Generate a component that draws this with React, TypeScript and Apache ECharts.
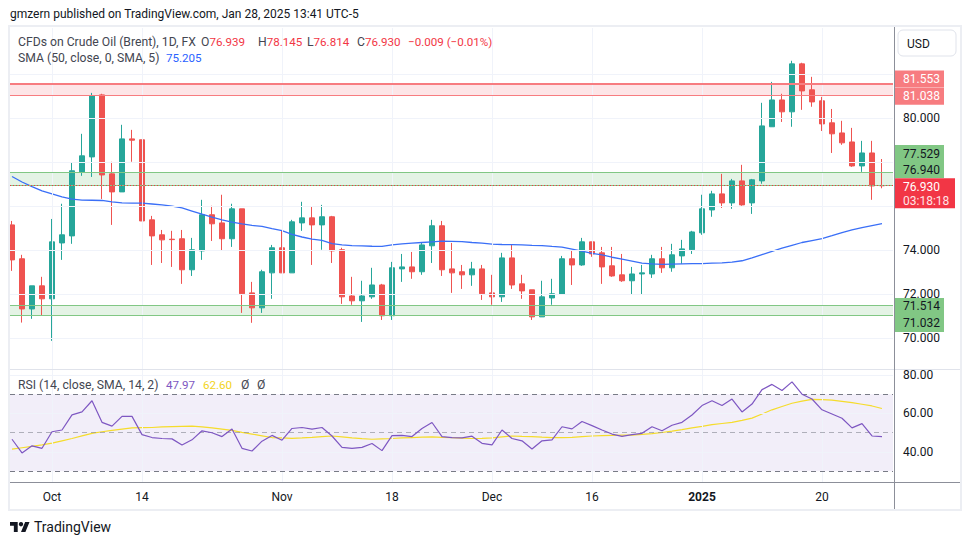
import { useEffect, useRef } from 'react';
import * as echarts from 'echarts';

const dates = [
  '2024-09-25','2024-09-26','2024-09-27','2024-09-30','2024-10-01','2024-10-02','2024-10-03','2024-10-04',
  '2024-10-07','2024-10-08','2024-10-09','2024-10-10','2024-10-11','2024-10-14','2024-10-15','2024-10-16',
  '2024-10-17','2024-10-18','2024-10-21','2024-10-22','2024-10-23','2024-10-24','2024-10-25','2024-10-28',
  '2024-10-29','2024-10-30','2024-10-31','2024-11-01','2024-11-04','2024-11-05','2024-11-06','2024-11-07',
  '2024-11-08','2024-11-11','2024-11-12','2024-11-13','2024-11-14','2024-11-15','2024-11-18','2024-11-19',
  '2024-11-20','2024-11-21','2024-11-22','2024-11-25','2024-11-26','2024-11-27','2024-11-28','2024-11-29',
  '2024-12-02','2024-12-03','2024-12-04','2024-12-05','2024-12-06','2024-12-09','2024-12-10','2024-12-11',
  '2024-12-12','2024-12-13','2024-12-16','2024-12-17','2024-12-18','2024-12-19','2024-12-20','2024-12-23',
  '2024-12-24','2024-12-26','2024-12-27','2024-12-30','2024-12-31','2025-01-02','2025-01-03','2025-01-06',
  '2025-01-07','2025-01-08','2025-01-09','2025-01-10','2025-01-13','2025-01-14','2025-01-15','2025-01-16',
  '2025-01-17','2025-01-20','2025-01-21','2025-01-22','2025-01-23','2025-01-24','2025-01-27','2025-01-28',
];

const opens = [
  75.15,73.61,71.33,72.38,71.79,74.33,74.65,77.56,78.24,81.06,77.47,76.65,79.06,79.02,75.38,74.70,
  74.50,74.52,73.11,73.97,75.61,75.24,74.52,75.88,72.06,71.38,72.97,74.11,72.97,75.24,75.47,75.15,
  75.52,74.02,71.92,71.70,71.88,72.42,71.02,73.15,73.24,73.02,74.20,75.11,73.15,73.02,72.88,73.15,
  72.06,71.88,73.65,72.47,72.20,70.97,71.83,72.00,73.61,73.33,74.38,73.88,73.29,72.88,72.61,72.92,
  72.92,73.61,73.20,73.74,74.02,74.79,75.83,76.56,76.15,77.15,76.15,77.15,79.61,80.83,80.29,82.47,
  81.29,80.79,79.79,79.33,78.92,77.83,78.42,76.939,
];
const highs = [
  75.33,73.79,72.38,72.79,75.42,76.11,77.97,79.29,81.15,81.11,78.02,79.70,79.47,79.02,75.56,74.92,
  74.88,74.92,74.56,76.29,76.02,76.52,76.11,75.88,72.56,73.11,74.24,74.92,75.38,76.20,75.97,76.06,
  75.56,74.11,72.79,72.61,73.20,72.47,73.47,73.83,73.92,74.33,75.38,75.33,74.33,73.33,73.47,73.33,
  72.88,73.88,74.24,72.88,72.20,72.61,72.70,73.74,73.97,74.56,74.38,74.15,74.15,73.83,73.24,73.33,
  73.79,74.15,74.29,74.47,74.88,76.52,76.70,77.47,77.24,77.88,77.24,80.70,81.65,81.11,82.61,82.52,
  81.88,80.97,80.42,79.88,79.56,78.97,78.97,78.145,
];
const lows = [
  73.06,70.71,70.88,71.02,69.88,73.56,74.29,77.38,77.33,76.33,75.15,76.65,78.02,75.33,73.33,73.42,
  73.24,72.47,72.83,73.56,74.42,73.97,74.15,71.15,70.70,71.15,71.79,72.97,72.97,74.88,73.33,74.02,
  73.42,71.56,71.52,70.74,71.79,70.83,70.83,72.56,72.70,72.88,73.42,72.83,72.06,72.24,72.38,71.74,
  71.52,71.65,72.24,71.79,70.83,70.97,71.52,71.97,72.42,73.29,73.70,72.47,72.79,72.56,71.97,71.97,
  72.74,72.97,73.02,73.38,73.83,74.70,75.52,75.92,75.88,76.02,75.65,77.02,79.61,79.83,79.61,80.38,
  80.52,79.42,78.42,78.79,77.79,77.56,76.29,76.814,
];
const closes = [
  73.56,71.33,72.38,71.79,74.38,74.70,77.61,78.29,81.02,77.42,76.65,79.06,79.00,75.33,74.65,74.47,
  74.48,73.11,74.02,75.61,75.20,74.52,75.88,72.02,71.38,73.02,74.11,72.97,75.29,75.47,75.15,75.52,
  73.97,71.88,71.70,71.92,72.42,71.02,73.20,73.24,73.02,74.24,75.11,73.11,72.97,72.88,73.15,72.02,
  71.88,73.65,72.42,72.15,70.97,71.88,72.02,73.61,73.33,74.38,73.83,73.24,72.83,72.61,72.92,72.97,
  73.61,73.20,73.79,74.06,74.83,75.88,76.56,76.15,77.15,76.06,77.20,79.65,80.83,80.29,82.47,81.24,
  80.74,79.74,79.29,78.88,77.83,78.42,76.92,76.930,
];
const sma50 = [
  77.35,77.10,76.89,76.70,76.56,76.42,76.32,76.28,76.27,76.26,76.20,76.15,76.14,76.14,76.10,76.06,
  76.00,75.92,75.78,75.64,75.50,75.38,75.28,75.20,75.13,75.08,74.98,74.89,74.72,74.60,74.50,74.45,
  74.30,74.24,74.21,74.20,74.18,74.17,74.24,74.29,74.32,74.35,74.38,74.41,74.40,74.39,74.35,74.32,
  74.28,74.26,74.25,74.24,74.22,74.21,74.17,74.14,74.05,73.96,73.86,73.79,73.68,73.59,73.50,73.41,
  73.38,73.36,73.37,73.38,73.39,73.39,73.41,73.42,73.46,73.52,73.65,73.80,73.95,74.09,74.22,74.35,
  74.44,74.53,74.66,74.80,74.92,75.03,75.12,75.205,
];
const rsi = [
  46.6,39.5,43.2,41.9,50.5,51.4,59.3,60.8,66.6,55.4,53.4,58.5,58.5,49.0,47.5,47.0,
  46.8,43.6,46.3,51.0,50.0,48.0,51.9,41.9,40.5,45.6,48.6,46.1,52.2,52.7,51.9,52.7,
  48.3,42.4,41.9,42.4,44.4,40.7,48.5,48.6,48.0,52.2,55.3,48.0,47.5,47.3,48.2,44.5,
  43.7,51.4,47.0,45.8,41.5,45.8,46.3,53.1,52.0,55.8,53.7,51.4,49.3,48.1,49.0,49.7,
  53.1,51.0,53.9,55.4,59.2,64.1,66.6,64.1,67.5,60.8,64.9,72.4,75.1,71.9,76.4,70.0,
  67.5,61.9,59.7,57.5,52.5,54.7,48.3,47.97,
];
const rsiSma = [
  41.5,42.2,42.9,43.7,44.6,45.8,47.0,48.4,49.7,50.5,51.2,51.9,52.5,52.6,52.7,53.0,
  53.2,53.3,53.4,53.0,52.5,51.9,51.2,50.2,49.3,48.4,47.5,47.3,47.1,47.3,47.6,48.0,
  48.3,47.8,47.3,46.9,46.6,46.8,47.0,47.3,47.5,47.7,47.8,47.6,47.5,47.2,47.0,47.1,
  47.3,47.8,48.3,48.1,48.0,47.7,47.5,47.5,47.6,48.0,48.3,48.5,48.6,48.7,48.8,49.1,
  49.5,50.1,50.8,51.6,52.5,53.3,54.2,54.8,55.4,56.4,57.6,59.7,61.9,63.6,65.3,66.4,
  67.3,67.2,66.9,66.3,65.6,64.8,63.9,62.60,
];

const tickDates = ['2024-10-01','2024-10-14','2024-11-01','2024-11-18','2024-12-02','2024-12-16','2025-01-02','2025-01-20'];
const tickLabels = ['Oct','14','Nov','18','Dec','16','2025','20'];
const priceTicks = [70, 72, 74, 76, 78, 80, 82];
// price ticks whose axis labels are hidden behind the level labels in the reference
const coveredPriceTicks = [76, 78, 82];
const rsiTicks = [40, 60, 80];
const rsiLevels = [30, 50, 70];
const resistanceZone = [81.038, 81.553];
const upperSupportZone = [76.940, 77.529];
const lowerSupportZone = [71.032, 71.514];
const lastPrice = 76.930;
const countdown = '03:18:18';

const UP = '#26a69a';
const DOWN = '#ef5350';
const FONT = 'Roboto, "Noto Sans", sans-serif';
const GRIDC = '#f0f3fa';

const tickIdx = tickDates.map((d) => dates.indexOf(d));

export default function App() {
  const ref = useRef<HTMLDivElement>(null);
  useEffect(() => {
    const el = ref.current!;
    const chart = echarts.init(el, null, { renderer: 'svg' });

    echarts.graphic.registerShape(
      'tvlogo',
      echarts.graphic.extendPath('M14 22H7V11H0V4h14v18z M28 22h-8l7.5-18h8L28 22z', {}) as any
    );

    const xCommon = { type: 'value', min: -0.2, max: 88.1, splitLine: { show: false }, axisTick: { show: false }, axisLine: { show: false } };

    const option: any = {
      animation: false,
      backgroundColor: '#ffffff',
      textStyle: { fontFamily: FONT },
      grid: [
        { left: 10, right: 77, top: 28, height: 341 },
        { left: 10, right: 77, top: 369, height: 113 },
      ],
      xAxis: [
        { ...xCommon, gridIndex: 0, axisLabel: { show: false } },
        {
          ...xCommon,
          gridIndex: 1,
          axisLabel: {
            customValues: tickIdx,
            margin: 9,
            color: '#131722',
            fontSize: 12,
            fontFamily: FONT,
            formatter: (v: number) => {
              const k = tickIdx.indexOf(Math.round(v));
              if (k < 0) return '';
              const t = tickLabels[k];
              return /^\d{4}$/.test(t) ? '{b|' + t + '}' : t;
            },
            rich: { b: { fontWeight: 'bold', fontSize: 12, color: '#131722', fontFamily: FONT } },
          },
        },
      ],
      yAxis: [
        {
          type: 'value', gridIndex: 0, position: 'right', min: 68.6, max: 84.1,
          splitLine: { show: false }, axisTick: { show: false }, axisLine: { show: false },
          axisLabel: {
            customValues: priceTicks.filter((v) => coveredPriceTicks.indexOf(v) < 0),
            margin: 10, color: '#131722', fontSize: 12, fontFamily: FONT,
            formatter: (v: number) => v.toFixed(3),
          },
        },
        {
          type: 'value', gridIndex: 1, position: 'right', min: 24.4, max: 83.1,
          splitLine: { show: false }, axisTick: { show: false }, axisLine: { show: false },
          axisLabel: { customValues: rsiTicks, margin: 10, color: '#131722', fontSize: 12, fontFamily: FONT, formatter: (v: number) => v.toFixed(2) },
        },
      ],
      series: [
        {
          type: 'line', xAxisIndex: 0, yAxisIndex: 0, data: [], z: 0, silent: true,
          markLine: {
            silent: true, symbol: 'none', label: { show: false },
            lineStyle: { color: GRIDC, width: 1, type: 'solid' },
            data: [...priceTicks.map((v) => ({ yAxis: v })), ...tickIdx.map((i) => ({ xAxis: i }))],
          },
        },
        {
          type: 'line', xAxisIndex: 1, yAxisIndex: 1, data: [], z: 0, silent: true,
          markArea: {
            silent: true,
            itemStyle: { color: 'rgba(126,87,194,0.1)' },
            data: [[{ yAxis: rsiLevels[0] }, { yAxis: rsiLevels[2] }]],
          },
          markLine: {
            silent: true, symbol: 'none', label: { show: false },
            data: [
              ...rsiTicks.map((v) => ({ yAxis: v, lineStyle: { color: GRIDC, width: 1, type: 'solid' } })),
              ...tickIdx.map((i) => ({ xAxis: i, lineStyle: { color: GRIDC, width: 1, type: 'solid' } })),
              { yAxis: rsiLevels[0], lineStyle: { color: '#787b86', width: 1, type: [5, 4] } },
              { yAxis: rsiLevels[1], lineStyle: { color: 'rgba(120,123,134,0.55)', width: 1, type: [5, 4] } },
              { yAxis: rsiLevels[2], lineStyle: { color: '#787b86', width: 1, type: [5, 4] } },
            ],
          },
        },
        {
          type: 'line', xAxisIndex: 0, yAxisIndex: 0, data: [], z: 1, silent: true,
          markArea: {
            silent: true,
            data: [
              [{ yAxis: resistanceZone[0], itemStyle: { color: 'rgba(242,54,69,0.13)' } }, { yAxis: resistanceZone[1] }],
              [{ yAxis: upperSupportZone[0], itemStyle: { color: 'rgba(76,175,80,0.15)' } }, { yAxis: upperSupportZone[1] }],
              [{ yAxis: lowerSupportZone[0], itemStyle: { color: 'rgba(76,175,80,0.15)' } }, { yAxis: lowerSupportZone[1] }],
            ],
          },
          markLine: {
            silent: true, symbol: 'none', label: { show: false },
            data: [
              { yAxis: resistanceZone[1], lineStyle: { color: '#f77c80', width: 2, type: 'solid' } },
              { yAxis: resistanceZone[0], lineStyle: { color: '#f77c80', width: 1, type: 'solid' } },
              { yAxis: upperSupportZone[1], lineStyle: { color: '#81c784', width: 1, type: 'solid' } },
              { yAxis: upperSupportZone[0], lineStyle: { color: '#81c784', width: 1, type: 'solid' } },
              { yAxis: lowerSupportZone[1], lineStyle: { color: '#81c784', width: 1, type: 'solid' } },
              { yAxis: lowerSupportZone[0], lineStyle: { color: '#81c784', width: 1, type: 'solid' } },
              { yAxis: lastPrice, lineStyle: { color: '#f23645', width: 1, type: [1, 2] } },
            ],
          },
        },
        {
          type: 'candlestick', name: 'Brent', xAxisIndex: 0, yAxisIndex: 0, z: 3,
          barWidth: 6,
          encode: { x: 0, y: [1, 2, 3, 4] },
          data: dates.map((_, i) => [i, opens[i], closes[i], lows[i], highs[i]]),
          itemStyle: { color: UP, color0: DOWN, borderColor: UP, borderColor0: DOWN, borderWidth: 1 },
        },
        {
          type: 'line', name: 'SMA 50', xAxisIndex: 0, yAxisIndex: 0, z: 4,
          showSymbol: false, symbol: 'none',
          data: sma50.map((v, i) => [i, v]),
          lineStyle: { color: '#3a6ff7', width: 1.3 },
        },
        {
          type: 'line', name: 'RSI SMA', xAxisIndex: 1, yAxisIndex: 1, z: 4,
          showSymbol: false, symbol: 'none',
          data: rsiSma.map((v, i) => [i, v]),
          lineStyle: { color: '#f5dc2c', width: 1.2 },
        },
        {
          type: 'line', name: 'RSI', xAxisIndex: 1, yAxisIndex: 1, z: 5,
          showSymbol: false, symbol: 'none',
          data: rsi.map((v, i) => [i, v]),
          lineStyle: { color: '#7e57c2', width: 1.2 },
        },
      ],
    };
    chart.setOption(option);

    const py = (v: number) => chart.convertToPixel({ yAxisIndex: 0 }, v) as number;
    const AX = 894;

    const priceBox = (id: string, value: number, cy: number, bg: string, fg: string) => [
      { type: 'rect', id: id + 'r', shape: { x: AX + 1, y: cy - 8.5, width: 49, height: 17 }, style: { fill: bg }, z: 50 },
      { type: 'text', id: id + 't', x: AX + 9, y: cy, style: { text: value.toFixed(3), fill: fg, font: '12px ' + FONT, textVerticalAlign: 'middle' }, z: 51 },
    ];

    const yLast = py(lastPrice);
    const LG = 12.2;
    const LV = 11.6;
    const txt = (id: string, x: number, y: number, rich: string) => ({
      type: 'text', id, x, y, z: 60,
      style: {
        text: rich, font: LG + 'px ' + FONT, textVerticalAlign: 'middle', fill: '#434651',
        rich: {
          g: { fill: '#434651', fontSize: LG, fontFamily: FONT },
          r: { fill: '#f23645', fontSize: LV, fontFamily: FONT },
          b: { fill: '#2962ff', fontSize: LV, fontFamily: FONT },
          p: { fill: '#7e57c2', fontSize: LV, fontFamily: FONT },
          y: { fill: '#f2d31b', fontSize: LV, fontFamily: FONT },
        },
      },
    });

    const graphic: any[] = [
      { type: 'text', id: 'hdr', x: 10, y: 14, style: { text: 'gmzern published on TradingView.com, Jan 28, 2025 13:41 UTC-5', fill: '#131722', font: '12px ' + FONT, textVerticalAlign: 'middle' } },
      { type: 'rect', id: 'frame', shape: { x: 9, y: 26, width: 952, height: 484 }, style: { fill: 'none', stroke: '#eceef3', lineWidth: 2 }, z: 40 },
      { type: 'line', id: 'sep', shape: { x1: 10, y1: 369.5, x2: 960, y2: 369.5 }, style: { stroke: '#e0e3eb', lineWidth: 1 }, z: 40 },
      { type: 'line', id: 'taxis', shape: { x1: 10, y1: 482.5, x2: 960, y2: 482.5 }, style: { stroke: '#8c8f99', lineWidth: 1 }, z: 40 },
      { type: 'line', id: 'paxis', shape: { x1: AX + 0.5, y1: 27, x2: AX + 0.5, y2: 509 }, style: { stroke: '#8c8f99', lineWidth: 1 }, z: 40 },
      { type: 'rect', id: 'usdbox', shape: { x: 898, y: 30, width: 58, height: 26, r: 5 }, style: { fill: '#ffffff', stroke: '#e0e3eb', lineWidth: 1 }, z: 41 },
      { type: 'text', id: 'usd', x: 907, y: 44, style: { text: 'USD', fill: '#131722', font: '12px ' + FONT, textVerticalAlign: 'middle' }, z: 42 },
      txt('lg1', 18, 42, '{g|CFDs on Crude Oil (Brent), 1D, FX}'),
      txt('lg1o', 201, 42, '{g|O}{r|76.939}'),
      txt('lg1h', 258, 42, '{g|H}{r|78.145}'),
      txt('lg1l', 307, 42, '{g|L}{r|76.814}'),
      txt('lg1c', 357, 42, '{g|C}{r|76.930}'),
      txt('lg1d', 408, 42, '{r|\u22120.009 (\u22120.01%)}'),
      txt('lg2', 18, 58, '{g|SMA (50, close, 0, SMA, 5)}'),
      txt('lg2v', 166, 58, '{b|' + sma50[sma50.length - 1].toFixed(3) + '}'),
      txt('lg3', 18, 385, '{g|RSI (14, close, SMA, 14, 2)}'),
      txt('lg3a', 166, 385, '{p|' + rsi[rsi.length - 1].toFixed(2) + '}'),
      txt('lg3b', 203, 385, '{y|' + rsiSma[rsiSma.length - 1].toFixed(2) + '}'),
      txt('lg3c', 241, 385, '{g|\u00d8}'),
      txt('lg3d', 257, 385, '{g|\u00d8}'),
      ...priceBox('z1', resistanceZone[1], py(resistanceZone[1]) - 5, '#f77c80', '#ffffff'),
      ...priceBox('z2', resistanceZone[0], py(resistanceZone[0]) + 1, '#f77c80', '#ffffff'),
      ...priceBox('z3', upperSupportZone[1], py(upperSupportZone[1]) - 19, '#81c784', '#131722'),
      ...priceBox('z4', upperSupportZone[0], py(upperSupportZone[0]) - 16, '#81c784', '#131722'),
      ...priceBox('z5', lowerSupportZone[1], py(lowerSupportZone[1]) + 1.5, '#81c784', '#131722'),
      ...priceBox('z6', lowerSupportZone[0], py(lowerSupportZone[0]) + 8, '#81c784', '#131722'),
      { type: 'rect', id: 'lastr', shape: { x: AX + 1, y: yLast - 7.5, width: 60, height: 30 }, style: { fill: '#f23645' }, z: 52 },
      { type: 'text', id: 'lastt', x: AX + 9, y: yLast + 1, style: { text: lastPrice.toFixed(3), fill: '#ffffff', font: '12px ' + FONT, textVerticalAlign: 'middle' }, z: 53 },
      { type: 'text', id: 'lastc', x: AX + 9, y: yLast + 15, style: { text: countdown, fill: '#ffe3e5', font: '12px ' + FONT, textVerticalAlign: 'middle' }, z: 53 },
      { type: 'tvlogo', id: 'logo', x: 10, y: 519.8, scaleX: 0.55, scaleY: 0.55, style: { fill: '#131722' } },
      { type: 'circle', id: 'logoc', shape: { cx: 10 + 20 * 0.55, cy: 519.8 + 8 * 0.55, r: 4 * 0.55 }, style: { fill: '#131722' } },
      { type: 'text', id: 'tvtext', x: 34, y: 527, style: { text: 'TradingView', fill: '#131722', font: '14px ' + FONT, textVerticalAlign: 'middle' } },
    ];
    chart.setOption({ graphic });

    return () => chart.dispose();
  }, []);
  return <div ref={ref} style={{ position: 'absolute', left: 0, top: 0, width: 970, height: 545 }} />;
}
